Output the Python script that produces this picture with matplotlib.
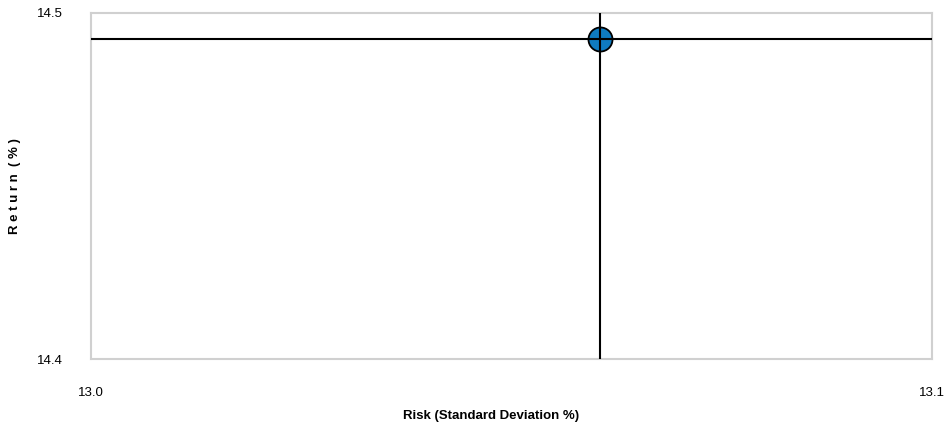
import numpy as np
import matplotlib
matplotlib.use("Agg")
import matplotlib.pyplot as plt

plt.rcParams["font.family"] = ["Liberation Sans", "DejaVu Sans"]

risk = [13.0605]
ret = [14.4925]
xticks = [13.0, 13.1]
yticks = [14.4, 14.5]

fig = plt.figure(figsize=(9.45, 4.23), dpi=100)
ax = fig.add_axes([0.0963, 0.1513, 0.8899, 0.8180])

ax.scatter(risk, ret, s=300, color="#0F7BC0", edgecolor="black", linewidth=1.3, zorder=3)
ax.axvline(risk[0], color="black", lw=1.5, zorder=4)
ax.axhline(ret[0], color="black", lw=1.5, zorder=4)

ax.set_xlim(xticks[0], xticks[1])
ax.set_ylim(yticks[0], yticks[1])
ax.set_xticks(xticks)
ax.set_yticks(yticks)
ax.set_xticklabels([f"{v:.1f}" for v in xticks], fontsize=9.5)
ax.set_yticklabels([f"{v:.1f}" for v in yticks], fontsize=9.5)
ax.tick_params(axis="x", length=0, pad=20)
ax.tick_params(axis="y", length=0, pad=20)
for s in ax.spines.values():
    s.set_color("#d0d0d0")
    s.set_linewidth(1.5)

fig.text(0.5197, 1 - 416 / 423, "Risk (Standard Deviation %)", fontsize=9.5,
         fontweight="bold", ha="center", va="center")
fig.text(15 / 945, 1 - 186 / 423, "R e t u r n  ( % )", fontsize=9.5,
         fontweight="bold", ha="center", va="center", rotation=90)

fig.savefig("out.png", dpi=100)
